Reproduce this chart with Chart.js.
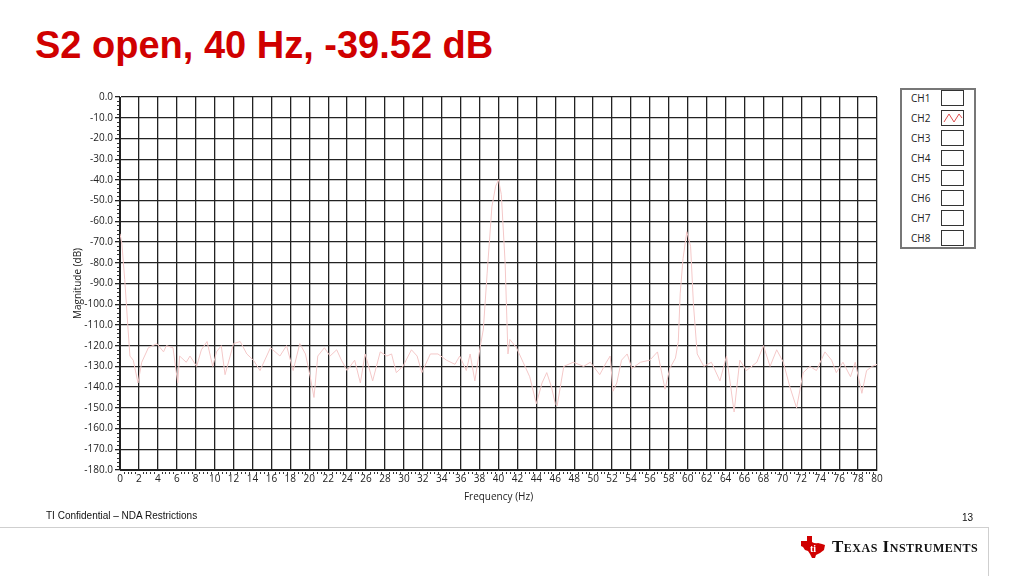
<!DOCTYPE html>
<html>
<head>
<meta charset="utf-8">
<script src="https://cdn.jsdelivr.net/npm/chart.js@4/dist/chart.umd.min.js"></script>
<style>
  html, body { margin: 0; padding: 0; background: #fff; }
  body { width: 1024px; height: 576px; position: relative; overflow: hidden; font-family: "Liberation Sans", Arial, sans-serif; }
  #title { position: absolute; left: 35px; top: 26px; font-size: 38px; line-height: 38px; font-weight: bold; color: #d00000; white-space: nowrap; }
  #chart { position: absolute; left: 0; top: 0; }
  #legend { position: absolute; left: 900px; top: 88px; width: 72px; height: 157px; border: 2px solid #777; background: #fff; }
  .row { position: absolute; left: 0; width: 72px; height: 20px; font-family: "Open Sans", sans-serif; font-size: 10px; color: #222; }
  .row span { position: absolute; left: 9px; top: 1px; }
  .row .box { position: absolute; left: 39px; top: 0px; width: 21px; height: 14px; border: 1.5px solid #333; box-sizing: content-box; }
  #conf { position: absolute; left: 46px; top: 510px; font-size: 10px; color: #111; }
  #page { position: absolute; left: 962px; top: 512px; font-size: 10px; color: #111; }
  #footer { position: absolute; left: -2px; top: 527px; width: 989px; height: 60px; border: 1px solid #cfcfcf; }
  #ti { position: absolute; left: 800px; top: 535px; height: 24px; white-space: nowrap; }
  #ti svg { position: absolute; left: 0; top: 0; }
  #ti span { position: absolute; left: 32px; top: 2px; font-family: "Liberation Serif", serif; font-weight: bold; font-variant: small-caps; font-size: 17px; letter-spacing: 0.5px; color: #111; }
</style>
</head>
<body>
<div id="title">S2 open, 40 Hz, -39.52 dB</div>
<canvas id="chart" width="1024" height="576"></canvas>
<div id="legend"></div>
<div id="conf">TI Confidential – NDA Restrictions</div>
<div id="page">13</div>
<div id="footer"></div>
<div id="ti">
  <svg width="26" height="24" viewBox="0 0 26 24">
    <path d="M1 6 L7 6 L7 1 L12 1 L12 7 Q15 9 18 8 L22 9 L25 10 L24 15 L20 18 L16 20 L15 23 L12 23 L10 19 L8 16 L5 15 L3 12 L1 11 Z" fill="#d00000"/>
    <text x="10" y="17" font-family="Liberation Serif" font-weight="bold" font-size="10" fill="#fff">ti</text>
  </svg>
  <span>Texas Instruments</span>
</div>

<script>
// spectrum (CH2 trace)
const freqHz = [
  0.0, 0.2, 0.5, 0.85, 1.05, 1.4, 1.9, 2.3, 3.0, 3.9, 4.6, 4.9, 5.6, 6.1, 6.3, 7.0, 7.4, 8.1, 8.6, 9.2,
  9.8, 10.2, 10.7, 11.1, 12.0, 12.7, 13.4, 14.1, 14.8, 15.9, 16.9, 17.6, 18.3, 19.0, 19.6, 20.1, 20.5, 20.9, 21.6, 22.2,
  22.9, 23.4, 24.0, 24.8, 25.4, 25.9, 26.1, 26.7, 27.5, 28.2, 28.7, 29.2, 29.9, 30.8, 31.4, 31.9, 32.8, 33.6, 34.5, 35.4,
  35.9, 36.6, 37.0, 37.5, 38.05, 38.4, 38.8, 39.3, 39.7, 40.0, 40.3, 40.7, 41.0, 41.2, 41.9, 42.6, 43.3, 44.0, 44.6, 45.1,
  45.6, 46.0, 46.2, 46.9, 47.9, 49.0, 49.7, 50.7, 51.4, 51.8, 52.1, 52.5, 53.0, 53.6, 54.1, 55.0, 56.0, 56.8, 57.6, 58.1,
  58.7, 59.0, 59.2, 59.5, 59.9, 60.3, 60.6, 61.0, 61.7, 62.5, 63.4, 64.1, 64.9, 65.5, 66.2, 67.3, 68.0, 68.7, 69.4, 70.1,
  70.8, 71.5, 72.2, 72.9, 73.6, 74.5, 75.2, 75.7, 76.4, 77.2, 77.7, 78.4, 78.9, 79.5, 80.0
];
const magDb = [
  -66, -71, -88, -112, -125, -127, -138, -128, -121, -119, -123, -120, -121, -138, -125, -128, -125, -130, -122, -118,
  -130, -123, -120, -134, -119, -118, -124, -127, -132, -121, -125, -120, -132, -119, -124, -135, -145, -125, -121, -125,
  -122, -127, -132, -127, -138, -124, -127, -137, -123, -125, -124, -133, -130, -122, -125, -133, -124, -124, -127, -129,
  -125, -132, -124, -137, -121, -112, -85, -53, -43, -40, -47, -80, -124, -117, -121, -128, -135, -148, -138, -133,
  -140, -148, -149, -130, -128, -130, -128, -134, -128, -125, -142, -138, -127, -124, -131, -128, -127, -123, -141, -131,
  -126, -118, -95, -78, -65, -72, -100, -124, -130, -128, -137, -125, -152, -127, -132, -128, -120, -130, -122, -128,
  -140, -150, -133, -130, -132, -123, -127, -133, -128, -135, -128, -143, -132, -130, -129
];
const channels = ['CH1', 'CH2', 'CH3', 'CH4', 'CH5', 'CH6', 'CH7', 'CH8'];
const activeChannel = 'CH2';

const points = freqHz.map((f, i) => ({ x: f, y: magDb[i] }));

// legend on the right, text then a small box
const legendEl = document.getElementById('legend');
legendEl.innerHTML = channels.map((c, i) => `
  <div class="row" style="top:${i * 20}px">
    <span>${c}</span>
    <div class="box">${c === activeChannel
      ? '<svg width="21" height="14"><polyline points="2,11 7,3 12,11 17,3 20,7" fill="none" stroke="#e05050" stroke-width="1"/></svg>'
      : ''}</div>
  </div>`).join('');

// dotted minor ticks along both axes
const minorTicks = {
  id: 'minorTicks',
  afterDraw(chart) {
    const { ctx, chartArea, scales } = chart;
    ctx.save();
    ctx.fillStyle = '#333';
    for (let v = -180; v <= 0; v += 2) {
      if (v % 10 === 0) continue;
      const y = Math.round(scales.y.getPixelForValue(v));
      ctx.fillRect(chartArea.left - 3, y, 2, 1);
    }
    for (let v = 0; v <= 80.001; v += 0.4) {
      if (Math.abs(v / 2 - Math.round(v / 2)) < 0.01) continue;
      const x = Math.round(scales.x.getPixelForValue(v));
      ctx.fillRect(x, chartArea.bottom + 2, 1, 2);
    }
    ctx.restore();
  }
};

const tickFont = { family: 'Open Sans', size: 10 };

new Chart(document.getElementById('chart'), {
  type: 'line',
  data: {
    datasets: [{
      label: activeChannel,
      data: points,
      borderColor: '#f4c8c8',
      borderWidth: 1,
      pointRadius: 0,
      tension: 0
    }]
  },
  options: {
    responsive: false,
    animation: false,
    layout: { padding: { left: 66, top: 97, right: 147, bottom: 66 } },
    plugins: { legend: { display: false }, tooltip: { enabled: false } },
    scales: {
      x: {
        type: 'linear',
        min: 0, max: 80,
        afterFit: s => { s.height = 40; },
        ticks: { stepSize: 2, autoSkip: false, maxRotation: 0, padding: 3, color: '#222', font: tickFont },
        grid: { color: '#222', lineWidth: 1.3, tickLength: 4, drawTicks: false },
        border: { color: '#222' },
        title: { display: true, text: 'Frequency (Hz)', color: '#222', font: tickFont, padding: { top: 0, bottom: 7 } }
      },
      y: {
        min: -180, max: 0,
        afterFit: s => { s.width = 54; },
        ticks: { stepSize: 10, color: '#222', font: tickFont, padding: 2, callback: v => v.toFixed(1) },
        grid: { color: '#222', lineWidth: 1.3, tickLength: 5 },
        border: { color: '#222' },
        title: { display: true, text: 'Magnitude (dB)', color: '#222', font: { family: 'Open Sans', size: 10 }, padding: { top: 6, bottom: 0 } }
      }
    }
  },
  plugins: [minorTicks]
});
</script>
</body>
</html>
